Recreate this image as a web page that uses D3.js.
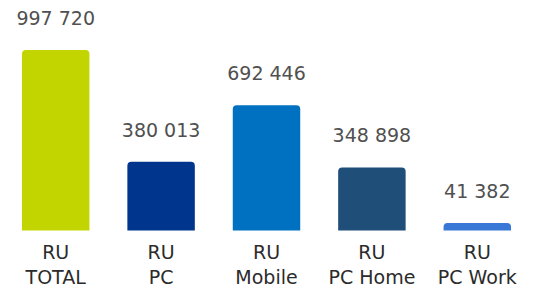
<!DOCTYPE html>
<html><head><meta charset="utf-8">
<script src="https://cdn.jsdelivr.net/npm/d3@7"></script>
<style>html,body{margin:0;padding:0;background:#fff;}</style>
</head><body>
<svg id="c" width="535" height="289"></svg>
<script>
const categories = ["RU|TOTAL", "RU|PC", "RU|Mobile", "RU|PC Home", "RU|PC Work"];
const values = [997720, 380013, 692446, 348898, 41382];
const valueLabels = ["997 720", "380 013", "692 446", "348 898", "41 382"];
const colors = ["#c2d500", "#00358d", "#0070c0", "#1f4e79", "#3a78d8"];

const svg = d3.select("#c");
const baseline = 230.5;
const x = d3.scaleBand().domain(categories).range([3, 530]).paddingInner(0.36).paddingOuter(0.18);
const y = d3.scaleLinear().domain([0, 997720]).range([baseline, 50]);

const r = 4;
function barPath(x0, w, top, bottom) {
  const rr = Math.min(r, (bottom - top), w / 2);
  return `M${x0},${bottom}V${top + rr}Q${x0},${top} ${x0 + rr},${top}H${x0 + w - rr}Q${x0 + w},${top} ${x0 + w},${top + rr}V${bottom}Z`;
}

svg.selectAll("path.bar").data(categories).join("path")
  .attr("class", "bar")
  .attr("d", (d, i) => barPath(x(d), x.bandwidth(), y(values[i]), baseline))
  .attr("fill", (d, i) => colors[i]);

svg.selectAll("text.val").data(categories).join("text")
  .attr("class", "val")
  .attr("x", d => x(d) + x.bandwidth() / 2)
  .attr("y", (d, i) => y(values[i]) - 25)
  .attr("text-anchor", "middle")
  .attr("font-family", "DejaVu Sans, Verdana, sans-serif")
  .attr("font-size", 19)
  .attr("fill", "#505050")
  .text((d, i) => valueLabels[i]);

const cat = svg.selectAll("text.cat").data(categories).join("text")
  .attr("class", "cat")
  .attr("text-anchor", "middle")
  .attr("font-family", "DejaVu Sans, Verdana, sans-serif")
  .attr("font-size", 19)
  .attr("fill", "#2b2b2b");
cat.each(function(d) {
  const parts = d.split("|");
  const cx = x(d) + x.bandwidth() / 2;
  d3.select(this).selectAll("tspan").data(parts).join("tspan")
    .attr("x", cx)
    .attr("y", (p, j) => 259 + j * 25)
    .text(p => p);
});
</script>
</body></html>
